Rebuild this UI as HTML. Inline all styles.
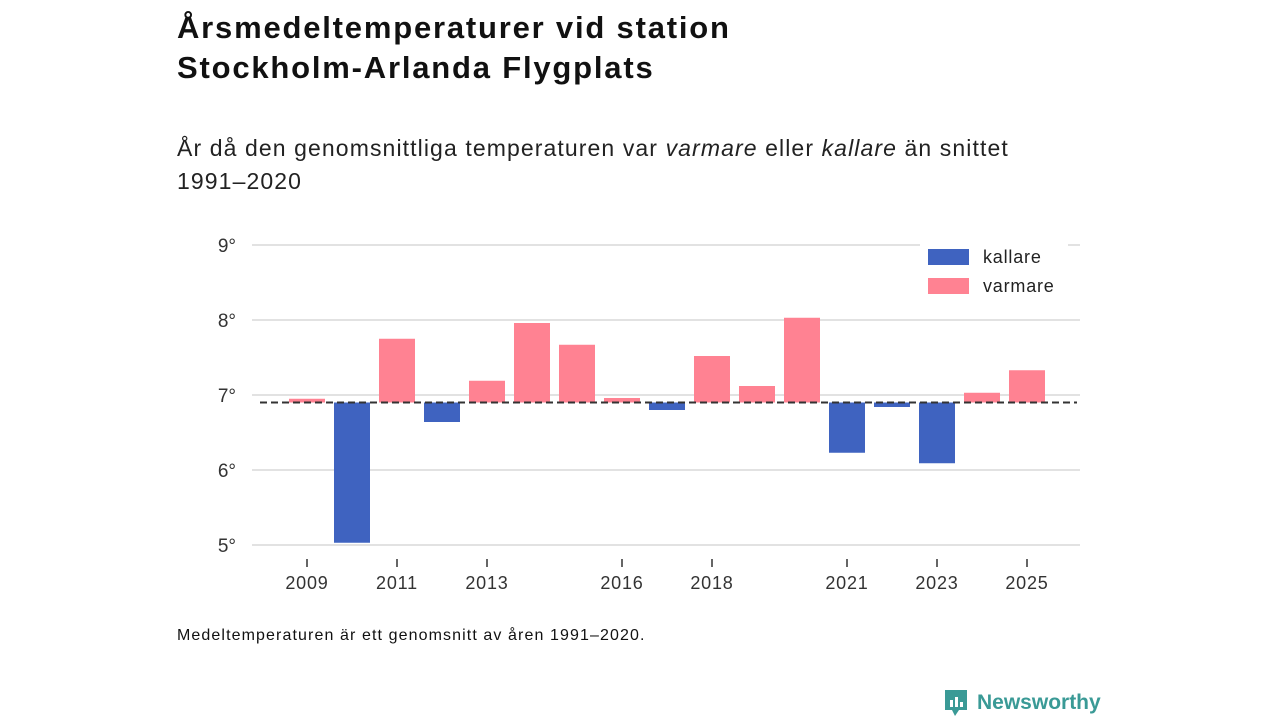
<!DOCTYPE html>
<html><head><meta charset="utf-8"><style>
body{margin:0;width:1280px;height:720px;background:#fff;font-family:"Liberation Sans","DejaVu Sans",sans-serif;color:#222;position:relative;overflow:hidden}
h1{position:absolute;left:177px;top:8px;margin:0;font-size:31px;line-height:40px;font-weight:bold;color:#111;letter-spacing:1.8px}
.sub{position:absolute;left:177px;top:132px;font-size:23px;line-height:33px;color:#222;letter-spacing:1.1px}
.note{position:absolute;left:177px;top:627px;font-size:16px;color:#111;letter-spacing:1.1px}
.logo{position:absolute;left:943px;top:688px;font-size:21px;font-weight:bold;color:#3a9a96;display:flex;align-items:center;gap:8px}
</style></head><body>
<h1>Årsmedeltemperaturer vid station<br>Stockholm-Arlanda Flygplats</h1>
<div class="sub">År då den genomsnittliga temperaturen var <i>varmare</i> eller <i>kallare</i> än snittet<br>1991–2020</div>
<svg id="chart" width="1280" height="720" style="position:absolute;left:0;top:0"></svg>
<div class="note">Medeltemperaturen är ett genomsnitt av åren 1991–2020.</div>
<div class="logo"><svg width="26" height="30" viewBox="0 0 26 30"><path d="M2 2h22v20h-8l-4 6-3-6H2z" fill="#3a9a96"/><rect x="7" y="12" width="3" height="7" fill="#fff"/><rect x="12" y="9" width="3" height="10" fill="#fff"/><rect x="17" y="14" width="3" height="5" fill="#fff"/></svg>Newsworthy</div>
<script>
const years=[2009,2010,2011,2012,2013,2014,2015,2016,2017,2018,2019,2020,2021,2022,2023,2024,2025];
const temps=[6.95,5.03,7.75,6.64,7.19,7.96,7.67,6.96,6.8,7.52,7.12,8.03,6.23,6.84,6.09,7.03,7.33];
const baseline=6.9;
const yTicks=[5,6,7,8,9];
const xTicks=[2009,2011,2013,2016,2018,2021,2023,2025];
const NS="http://www.w3.org/2000/svg";
const svg=document.getElementById('chart');
const y=v=>545-(v-5)*75;
const x=yr=>307+(yr-2009)*45;
function mk(t,a){const e=document.createElementNS(NS,t);for(const k in a)e.setAttribute(k,a[k]);svg.appendChild(e);return e;}
yTicks.forEach(v=>{
 const l=mk('line',{x1:252,x2:1080,y1:y(v),y2:y(v),stroke:'#d9d9d9','stroke-width':1.5});
 
 
 const t=mk('text',{x:236,y:y(v)+7,'text-anchor':'end','font-size':19,fill:'#333'});
 t.textContent=v+'°';
 
 
});
years.forEach((yr,i)=>{
 const v=temps[i];const top=Math.min(y(v),y(baseline));const h=Math.abs(y(v)-y(baseline));
 const r=mk('rect',{x:x(yr)-18,y:top,width:36,height:h,fill:v<baseline?'#3f63c0':'#ff8292'});
 
 
});
const bl=mk('line',{x1:260,x2:1077,y1:y(baseline),y2:y(baseline),stroke:'#333','stroke-width':2,'stroke-dasharray':'7,4'});


xTicks.forEach(yr=>{
 const l=mk('line',{x1:x(yr),x2:x(yr),y1:559,y2:567,stroke:'#333','stroke-width':1.5});
 
 
 const t=mk('text',{x:x(yr),y:589,'text-anchor':'middle','font-size':18,fill:'#333','letter-spacing':0.8});
 t.textContent=yr;
 
 
});
const lb=mk('rect',{x:920,y:240,width:148,height:62,fill:'#fff'});


[['kallare','#3f63c0',257],['varmare','#ff8292',286]].forEach(([n,c,cy])=>{
 const r=mk('rect',{x:928,y:cy-8,width:41,height:16,fill:c});
 
 
 const t=mk('text',{x:983,y:cy+6,'font-size':18,fill:'#222','letter-spacing':0.8});
 t.textContent=n;
 
 
});
</script>
</body></html>
